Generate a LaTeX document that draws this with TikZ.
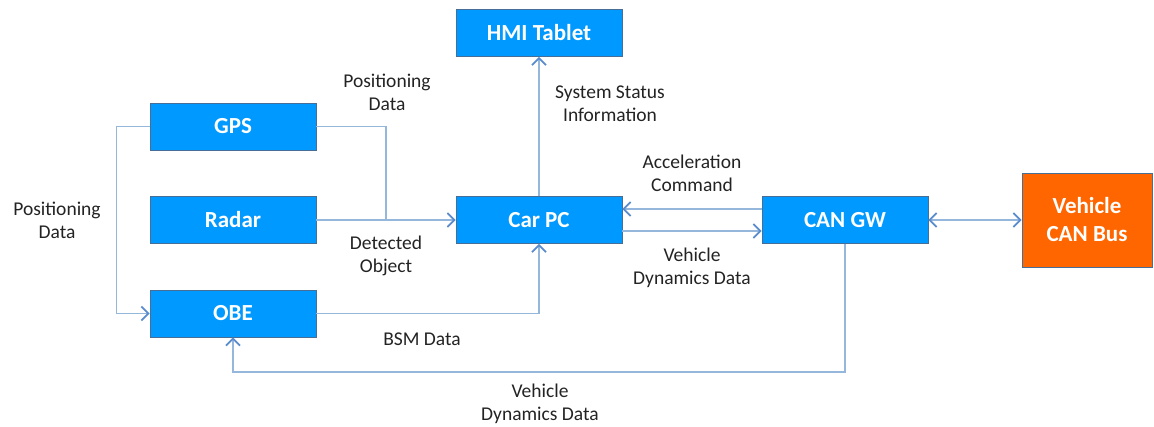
\documentclass[tikz,border=0pt]{standalone}
\usepackage{fontspec}
\setmainfont{Carlito}
\usetikzlibrary{arrows.meta,calc}
\definecolor{boxblue}{RGB}{0,153,255}
\definecolor{boxedge}{RGB}{70,110,150}
\definecolor{busorange}{RGB}{255,102,0}
\definecolor{linecol}{RGB}{150,183,220}
\definecolor{tipcol}{RGB}{90,140,205}
\definecolor{txt}{RGB}{35,35,35}
\tikzset{
  blk/.style={draw=boxedge, line width=0.9pt, fill=boxblue, text=white,
    minimum width=166pt, minimum height=47pt, inner sep=0pt,
    font=\fontsize{23}{26}\selectfont\bfseries},
  conn/.style={draw=linecol, line width=1.8pt},
  arr/.style={conn, -{Straight Barb[length=7pt,width=14pt,line width=1.7pt,color=tipcol]}},
  darr/.style={conn, {Straight Barb[length=7pt,width=14pt,line width=1.7pt,color=tipcol]}-{Straight Barb[length=7pt,width=14pt,line width=1.7pt,color=tipcol]}},
  lbl/.style={text=txt, align=center, inner sep=0pt,
    font=\fontsize{19.5}{23}\selectfont}
}
\begin{document}
\begin{tikzpicture}[x=1pt,y=-1pt]
\useasboundingbox (0,0) rectangle (1154,427);
% blocks
\node[blk] (hmi)   at (539,33)  {HMI Tablet};
\node[blk] (gps)   at (233,126.5) {GPS};
\node[blk] (radar) at (233,220) {Radar};
\node[blk] (obe)   at (233,313.5) {OBE};
\node[blk] (carpc) at (539,220) {Car PC};
\node[blk] (cangw) at (845,220) {CAN GW};
\node[blk, fill=busorange, minimum width=130pt, minimum height=94pt, align=center,
  font=\fontsize{23}{28}\selectfont\bfseries] (bus) at (1087,220) {Vehicle\\CAN Bus};
% junction
\coordinate (j) at (386,220);
% connectors
\draw[conn] (gps.east) -| (j);
\draw[arr] (radar.east) -- (carpc.west);
\draw[arr] (gps.west) -- ++(-33,0) |- (obe.west);
\draw[arr] (obe.east) -| (carpc.south);
\draw[arr] (carpc.north) -- (hmi.south);
\draw[arr] ($(cangw.west)+(0,-11)$) -- ($(carpc.east)+(0,-11)$);
\draw[arr] ($(carpc.east)+(0,11)$) -- ($(cangw.west)+(0,11)$);
\draw[darr] (cangw.east) -- (bus.west);
\draw[arr] (cangw.south) -- ++(0,128) -| (obe.south);
% labels
\node[lbl] (l1) at (387,92) {Positioning\\Data};
\node[lbl] (l2) at (57,220) {Positioning\\Data};
\node[lbl] (l3) at (386,256) {Detected\\Object};
\node[lbl] (l4) at (422,339) {BSM Data};
\node[lbl] (l5) at (610,104) {System Status\\Information};
\node[lbl] (l6) at (692,173) {Acceleration\\Command};
\node[lbl] (l7) at (692,268) {Vehicle\\Dynamics Data};
\node[lbl] (l8) at (540,404) {Vehicle\\Dynamics Data};
\end{tikzpicture}
\end{document}
